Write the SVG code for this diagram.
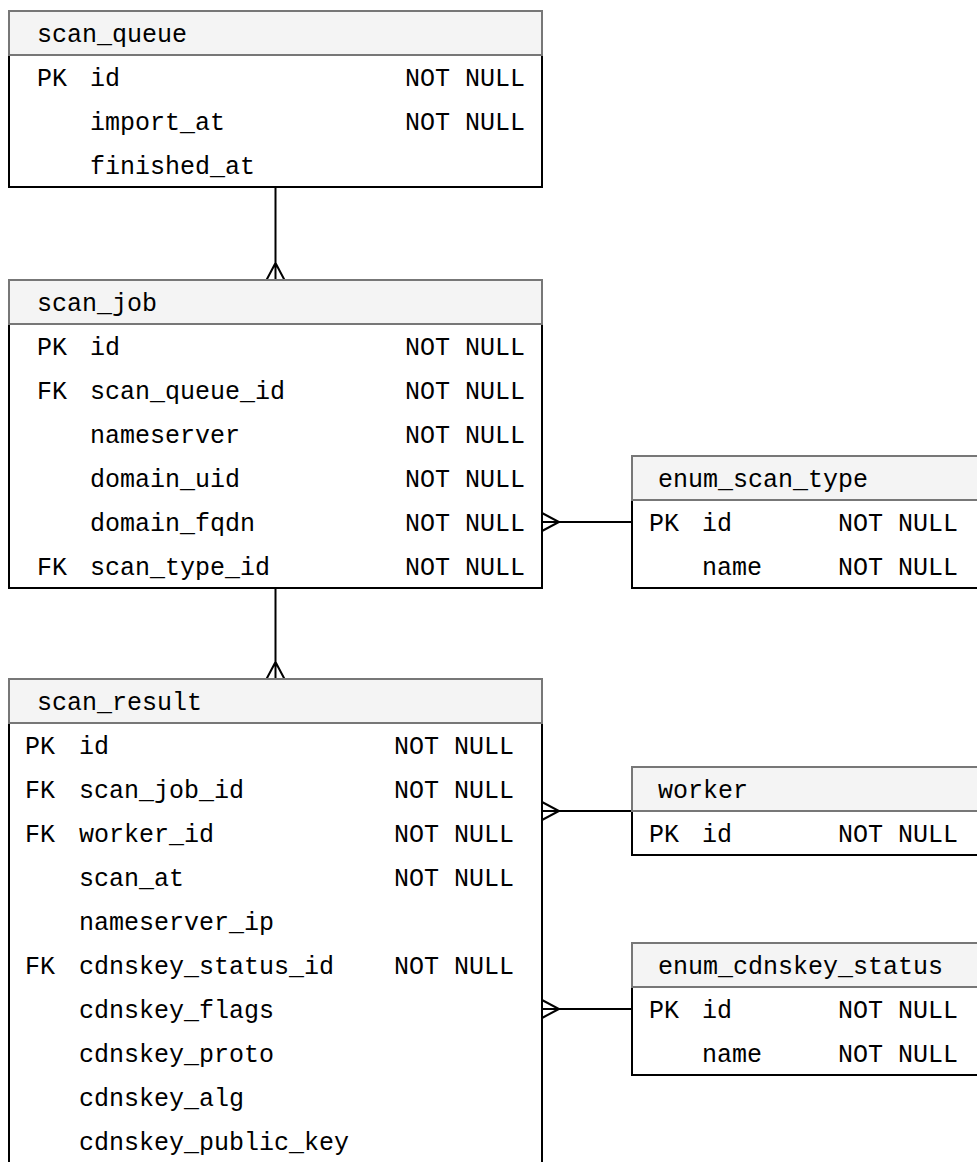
<svg xmlns="http://www.w3.org/2000/svg" width="977" height="1162" viewBox="0 0 977 1162">
<style>
.body{fill:#ffffff;stroke:#000000;stroke-width:2}
.head{fill:#f4f4f4;stroke:#777777;stroke-width:2}
text{font-family:"Liberation Mono","DejaVu Sans Mono",monospace;font-size:25px;fill:#000000}
.r{text-anchor:end}
.conn{fill:none;stroke:#000000;stroke-width:2}
</style>
<rect x="0" y="0" width="977" height="1162" fill="#ffffff"/>
<g id="connectors">
<path class="conn" d="M275.5,187 V280 M266.5,280 L275.5,263 L284.5,280"/>
<path class="conn" d="M275.5,588 V679 M266.5,679 L275.5,662 L284.5,679"/>
<path class="conn" d="M542,522 H632 M542,513 L559,522 L542,531"/>
<path class="conn" d="M542,811 H632 M542,802 L559,811 L542,820"/>
<path class="conn" d="M542,1009 H632 M542,1000 L559,1009 L542,1018"/>
</g>
<g id="scan_queue">
<rect class="body" x="9" y="11" width="533" height="176"/>
<rect class="head" x="9" y="11" width="533" height="44"/>
<text x="37" y="42">scan_queue</text>
<text x="37" y="86">PK</text><text x="90" y="86">id</text><text class="r" x="525" y="86">NOT NULL</text>
<text x="90" y="130">import_at</text><text class="r" x="525" y="130">NOT NULL</text>
<text x="90" y="174">finished_at</text>
</g>
<g id="scan_job">
<rect class="body" x="9" y="280" width="533" height="308"/>
<rect class="head" x="9" y="280" width="533" height="44"/>
<text x="37" y="311">scan_job</text>
<text x="37" y="355">PK</text><text x="90" y="355">id</text><text class="r" x="525" y="355">NOT NULL</text>
<text x="37" y="399">FK</text><text x="90" y="399">scan_queue_id</text><text class="r" x="525" y="399">NOT NULL</text>
<text x="90" y="443">nameserver</text><text class="r" x="525" y="443">NOT NULL</text>
<text x="90" y="487">domain_uid</text><text class="r" x="525" y="487">NOT NULL</text>
<text x="90" y="531">domain_fqdn</text><text class="r" x="525" y="531">NOT NULL</text>
<text x="37" y="575">FK</text><text x="90" y="575">scan_type_id</text><text class="r" x="525" y="575">NOT NULL</text>
</g>
<g id="enum_scan_type">
<rect class="body" x="632" y="456" width="380" height="132"/>
<rect class="head" x="632" y="456" width="380" height="44"/>
<text x="658" y="487">enum_scan_type</text>
<text x="649" y="531">PK</text><text x="702" y="531">id</text><text class="r" x="958" y="531">NOT NULL</text>
<text x="702" y="575">name</text><text class="r" x="958" y="575">NOT NULL</text>
</g>
<g id="scan_result">
<rect class="body" x="9" y="679" width="533" height="500"/>
<rect class="head" x="9" y="679" width="533" height="44"/>
<text x="37" y="710">scan_result</text>
<text x="25" y="754">PK</text><text x="79" y="754">id</text><text class="r" x="514" y="754">NOT NULL</text>
<text x="25" y="798">FK</text><text x="79" y="798">scan_job_id</text><text class="r" x="514" y="798">NOT NULL</text>
<text x="25" y="842">FK</text><text x="79" y="842">worker_id</text><text class="r" x="514" y="842">NOT NULL</text>
<text x="79" y="886">scan_at</text><text class="r" x="514" y="886">NOT NULL</text>
<text x="79" y="930">nameserver_ip</text>
<text x="25" y="974">FK</text><text x="79" y="974">cdnskey_status_id</text><text class="r" x="514" y="974">NOT NULL</text>
<text x="79" y="1018">cdnskey_flags</text>
<text x="79" y="1062">cdnskey_proto</text>
<text x="79" y="1106">cdnskey_alg</text>
<text x="79" y="1150">cdnskey_public_key</text>
</g>
<g id="worker">
<rect class="body" x="632" y="767" width="380" height="88"/>
<rect class="head" x="632" y="767" width="380" height="44"/>
<text x="658" y="798">worker</text>
<text x="649" y="842">PK</text><text x="702" y="842">id</text><text class="r" x="958" y="842">NOT NULL</text>
</g>
<g id="enum_cdnskey_status">
<rect class="body" x="632" y="943" width="380" height="132"/>
<rect class="head" x="632" y="943" width="380" height="44"/>
<text x="658" y="974">enum_cdnskey_status</text>
<text x="649" y="1018">PK</text><text x="702" y="1018">id</text><text class="r" x="958" y="1018">NOT NULL</text>
<text x="702" y="1062">name</text><text class="r" x="958" y="1062">NOT NULL</text>
</g>
</svg>
